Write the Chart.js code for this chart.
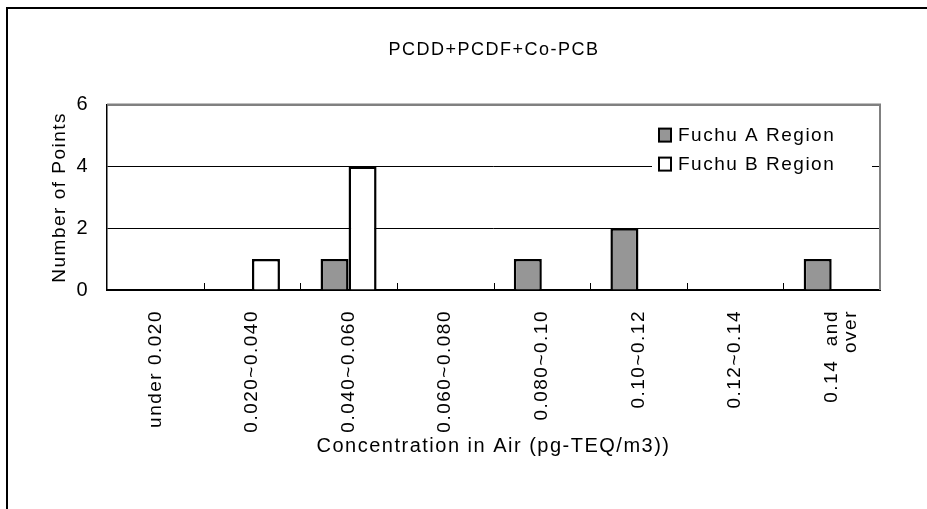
<!DOCTYPE html>
<html>
<head>
<meta charset="utf-8">
<title>PCDD+PCDF+Co-PCB</title>
<script src="https://cdn.jsdelivr.net/npm/chart.js@4"></script>
<style>
html, body { margin: 0; padding: 0; background: #fff; }
#wrap { position: relative; width: 927px; height: 509px; overflow: hidden; }
#frame { position: absolute; left: 6px; top: 7px; width: 960px; height: 540px;
         border-top: 2px solid #000; border-left: 2px solid #000; }
canvas { position: absolute; left: 0; top: 0; }
</style>
</head>
<body>
<div id="wrap">
  <div id="frame"></div>
  <canvas id="chart" width="927" height="509"></canvas>
</div>
<script>
// -----------------------------
// DATA
// -----------------------------
const categories = [
    "under 0.020",
    "0.020~0.040",
    "0.040~0.060",
    "0.060~0.080",
    "0.080~0.10",
    "0.10~0.12",
    "0.12~0.14",
    ["0.14  and", "over"]
];
const fuchuA = [0, 0, 1, 0, 1, 2, 0, 1];
const fuchuB = [0, 1, 4, 0, 0, 0, 0, 0];
const seriesNames = ["Fuchu A Region", "Fuchu B Region"];
const yMin = 0;
const yMax = 6;
const yStep = 2;

const SANS = '"Liberation Sans", Arial, sans-serif';


// -----------------------------
// PLUGINS
// -----------------------------
// wide letter spacing like the original Excel fonts
const spacingPlugin = {
    id: 'spacing',
    afterLayout(chart) {
        // title sits a bit right of the plot centre in the original
        const t = chart.titleBlock;
        if (t) { t.left += 54; t.right += 54; }
    },
    beforeDraw(chart) {
        chart.ctx.letterSpacing = '1.5px';
    }
};

// gray frame on top/right of plot + small inward ticks between categories
const framePlugin = {
    id: 'frame',
    beforeDatasetsDraw(chart) {
        const { ctx, chartArea } = chart;
        const x = chart.scales.x;
        ctx.save();
        ctx.strokeStyle = '#808080';
        ctx.lineWidth = 2;
        ctx.beginPath();
        ctx.moveTo(chartArea.left, chartArea.top);
        ctx.lineTo(chartArea.right, chartArea.top);
        ctx.lineTo(chartArea.right, chartArea.bottom);
        ctx.stroke();

        const half = (x.getPixelForValue(1) - x.getPixelForValue(0)) / 2;
        ctx.strokeStyle = '#000';
        ctx.lineWidth = 1;
        ctx.beginPath();
        for (let i = 1; i < categories.length; i++) {
            const px = Math.round(x.getPixelForValue(i) - half) + 0.5;
            ctx.moveTo(px, chartArea.bottom);
            ctx.lineTo(px, chartArea.bottom - 7);
        }
        ctx.stroke();
        ctx.restore();
    }
};

// legend drawn inside the plot, upper right
const innerLegend = {
    id: 'innerLegend',
    afterDatasetsDraw(chart) {
        const { ctx, chartArea } = chart;
        const left = chartArea.right - 228;
        const top = chartArea.top + 19;
        ctx.save();
        ctx.fillStyle = '#fff';
        ctx.fillRect(left, top, 220, 52);
        ctx.font = '19px ' + SANS;
        ctx.letterSpacing = '1.5px';
        ctx.textBaseline = 'middle';
        chart.data.datasets.forEach((ds, i) => {
            const cy = top + 11 + i * 29;
            ctx.fillStyle = ds.backgroundColor;
            ctx.fillRect(left + 7, cy - 6, 12, 13);
            ctx.strokeStyle = '#000';
            ctx.lineWidth = 2;
            ctx.strokeRect(left + 7, cy - 6, 12, 13);
            ctx.fillStyle = '#000';
            ctx.fillText(ds.label, left + 26, cy + 1);
        });
        ctx.restore();
    }
};


// -----------------------------
// CHART
// -----------------------------
const ctx = document.getElementById("chart").getContext("2d");

new Chart(ctx, {
    type: "bar",
    data: {
        labels: categories,
        datasets: [
            {
                label: seriesNames[0],
                data: fuchuA,
                backgroundColor: "#969696",
                borderColor: "#000",
                borderWidth: 2.5
            },
            {
                label: seriesNames[1],
                data: fuchuB,
                backgroundColor: "#ffffff",
                borderColor: "#000",
                borderWidth: 2.5
            }
        ]
    },
    options: {
        responsive: false,
        animation: false,
        layout: { padding: { left: 0, right: 47, top: 0, bottom: 0 } },
        datasets: {
            bar: { categoryPercentage: 0.58, barPercentage: 1.0 }
        },
        plugins: {
            legend: { display: false },
            tooltip: { enabled: false },
            title: {
                display: true,
                text: "PCDD+PCDF+Co-PCB",
                color: "#000",
                font: { family: SANS, size: 18, weight: 'normal', lineHeight: 1.2 },
                padding: { top: 39, bottom: 44 }
            }
        },
        scales: {
            x: {
                grid: { display: false, drawTicks: false },
                border: { display: true, color: "#000", width: 2 },
                ticks: {
                    color: "#000",
                    autoSkip: false,
                    minRotation: 90,
                    maxRotation: 90,
                    padding: 20,
                    font: { family: SANS, size: 19, lineHeight: 1.0 }
                },
                title: {
                    display: true,
                    text: "Concentration in Air (pg-TEQ/m3))",
                    color: "#000",
                    font: { family: SANS, size: 20, lineHeight: 1.2 },
                    padding: { top: 0, bottom: 51 }
                },
                afterFit(scale) { scale.height = 219; }
            },
            y: {
                min: yMin,
                max: yMax,
                grid: {
                    drawTicks: false,
                    color: (c) => c.tick && c.tick.value === yMax ? "#808080" : "#000",
                    lineWidth: (c) => c.tick && c.tick.value === yMax ? 2 : 1
                },
                border: { display: true, color: "#000", width: 1.5 },
                ticks: {
                    stepSize: yStep,
                    color: "#000",
                    padding: 18,
                    font: { family: SANS, size: 20 }
                },
                title: {
                    display: true,
                    text: "Number of Points",
                    color: "#000",
                    font: { family: SANS, size: 19, lineHeight: 1.2 },
                    padding: { top: 48, bottom: 0 }
                },
                afterFit(scale) { scale.width = 107; }
            }
        }
    },
    plugins: [spacingPlugin, framePlugin, innerLegend]
});
</script>
</body>
</html>
